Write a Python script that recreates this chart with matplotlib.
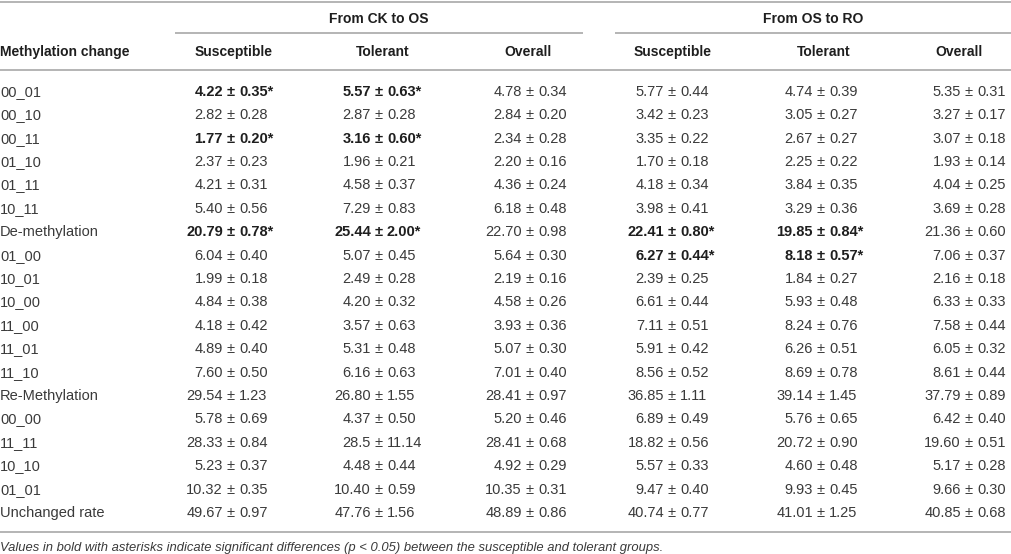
import matplotlib
matplotlib.use("Agg")
import matplotlib.pyplot as plt

# Row labels of the table
row_labels = ["00_01", "00_10", "00_11", "01_10", "01_11", "10_11", "De-methylation",
              "01_00", "10_01", "10_00", "11_00", "11_01", "11_10", "Re-Methylation",
              "00_00", "11_11", "10_10", "01_01", "Unchanged rate"]

group_titles = ["From CK to OS", "From OS to RO"]
col_titles = ["Susceptible", "Tolerant", "Overall", "Susceptible", "Tolerant", "Overall"]

# mean and SD per column (kept as strings to keep the printed precision)
ck_sus_mean = ["4.22", "2.82", "1.77", "2.37", "4.21", "5.40", "20.79", "6.04", "1.99", "4.84",
               "4.18", "4.89", "7.60", "29.54", "5.78", "28.33", "5.23", "10.32", "49.67"]
ck_sus_sd = ["0.35", "0.28", "0.20", "0.23", "0.31", "0.56", "0.78", "0.40", "0.18", "0.38",
             "0.42", "0.40", "0.50", "1.23", "0.69", "0.84", "0.37", "0.35", "0.97"]
ck_tol_mean = ["5.57", "2.87", "3.16", "1.96", "4.58", "7.29", "25.44", "5.07", "2.49", "4.20",
               "3.57", "5.31", "6.16", "26.80", "4.37", "28.5", "4.48", "10.40", "47.76"]
ck_tol_sd = ["0.63", "0.28", "0.60", "0.21", "0.37", "0.83", "2.00", "0.45", "0.28", "0.32",
             "0.63", "0.48", "0.63", "1.55", "0.50", "11.14", "0.44", "0.59", "1.56"]
ck_all_mean = ["4.78", "2.84", "2.34", "2.20", "4.36", "6.18", "22.70", "5.64", "2.19", "4.58",
               "3.93", "5.07", "7.01", "28.41", "5.20", "28.41", "4.92", "10.35", "48.89"]
ck_all_sd = ["0.34", "0.20", "0.28", "0.16", "0.24", "0.48", "0.98", "0.30", "0.16", "0.26",
             "0.36", "0.30", "0.40", "0.97", "0.46", "0.68", "0.29", "0.31", "0.86"]
os_sus_mean = ["5.77", "3.42", "3.35", "1.70", "4.18", "3.98", "22.41", "6.27", "2.39", "6.61",
               "7.11", "5.91", "8.56", "36.85", "6.89", "18.82", "5.57", "9.47", "40.74"]
os_sus_sd = ["0.44", "0.23", "0.22", "0.18", "0.34", "0.41", "0.80", "0.44", "0.25", "0.44",
             "0.51", "0.42", "0.52", "1.11", "0.49", "0.56", "0.33", "0.40", "0.77"]
os_tol_mean = ["4.74", "3.05", "2.67", "2.25", "3.84", "3.29", "19.85", "8.18", "1.84", "5.93",
               "8.24", "6.26", "8.69", "39.14", "5.76", "20.72", "4.60", "9.93", "41.01"]
os_tol_sd = ["0.39", "0.27", "0.27", "0.22", "0.35", "0.36", "0.84", "0.57", "0.27", "0.48",
             "0.76", "0.51", "0.78", "1.45", "0.65", "0.90", "0.48", "0.45", "1.25"]
os_all_mean = ["5.35", "3.27", "3.07", "1.93", "4.04", "3.69", "21.36", "7.06", "2.16", "6.33",
               "7.58", "6.05", "8.61", "37.79", "6.42", "19.60", "5.17", "9.66", "40.85"]
os_all_sd = ["0.31", "0.17", "0.18", "0.14", "0.25", "0.28", "0.60", "0.37", "0.18", "0.33",
             "0.44", "0.32", "0.44", "0.89", "0.40", "0.51", "0.28", "0.30", "0.68"]

# significant cells (row index, column index) -> bold with asterisk
significant = [(0, 0), (0, 1), (2, 0), (2, 1), (6, 0), (6, 1), (6, 3), (6, 4), (7, 3), (7, 4)]

footnote = ("Values in bold with asterisks indicate significant differences (p < 0.05) "
            "between the susceptible and tolerant groups.")

means = [ck_sus_mean, ck_tol_mean, ck_all_mean, os_sus_mean, os_tol_mean, os_all_mean]
sds = [ck_sus_sd, ck_tol_sd, ck_all_sd, os_sus_sd, os_tol_sd, os_all_sd]

# layout in pixel units
W, H = 1012, 554
pm_x = [231, 379, 530, 672, 821, 969]      # x of the "±" in each column
head_x = [234, 383, 528, 673, 824, 959]    # centers of column titles
group_x = [379, 813]
group_lines = [(175, 583), (615, 1012)]
row0, row_step = 90.6, 23.4

plt.rcParams["font.family"] = ["Liberation Sans", "DejaVu Sans"]
fig = plt.figure(figsize=(W / 100, H / 100), dpi=100)
ax = fig.add_axes([0, 0, 1, 1])
ax.set_xlim(0, W)
ax.set_ylim(H, 0)
ax.axis("off")

line_col = "#b4b4b4"
text_col = "#3a3a3a"
head_col = "#1e1e1e"
fs = 10.5
# baseline offsets so that cap height is centred on the row
off = 5.2
hoff = 5.0

# rules
ax.hlines(1.5, 0, W, color=line_col, lw=1.4)
for x0, x1 in group_lines:
    ax.hlines(33, x0, x1, color=line_col, lw=1.4)
ax.hlines(70, 0, W, color=line_col, lw=1.4)
ax.hlines(532, 0, W, color=line_col, lw=1.4)

# headers
for gx, gt in zip(group_x, group_titles):
    ax.text(gx, 18 + hoff, gt, ha="center", va="baseline", fontsize=10,
            fontweight="bold", color=head_col)
ax.text(0, 51 + hoff, "Methylation change", ha="left", va="baseline", fontsize=10,
        fontweight="bold", color=head_col)
for hx, ht in zip(head_x, col_titles):
    ax.text(hx, 51 + hoff, ht, ha="center", va="baseline", fontsize=10,
            fontweight="bold", color=head_col)

# body
for i, lab in enumerate(row_labels):
    y = row0 + i * row_step + off
    ax.text(0, y, lab, ha="left", va="baseline", fontsize=fs, color=text_col)
    for j in range(6):
        sig = (i, j) in significant
        weight = "bold" if sig else "normal"
        col = head_col if sig else text_col
        sd = sds[j][i] + ("*" if sig else "")
        ax.text(pm_x[j] - 8, y, means[j][i], ha="right", va="baseline", fontsize=fs,
                fontweight=weight, color=col)
        ax.text(pm_x[j], y, "±", ha="center", va="baseline", fontsize=fs,
                fontweight=weight, color=col)
        ax.text(pm_x[j] + 8, y, sd, ha="left", va="baseline", fontsize=fs,
                fontweight=weight, color=col)

ax.text(0, 550.5, footnote, ha="left", va="baseline", fontsize=9.4, style="italic",
        color=text_col)

fig.savefig("out.png", dpi=100)
